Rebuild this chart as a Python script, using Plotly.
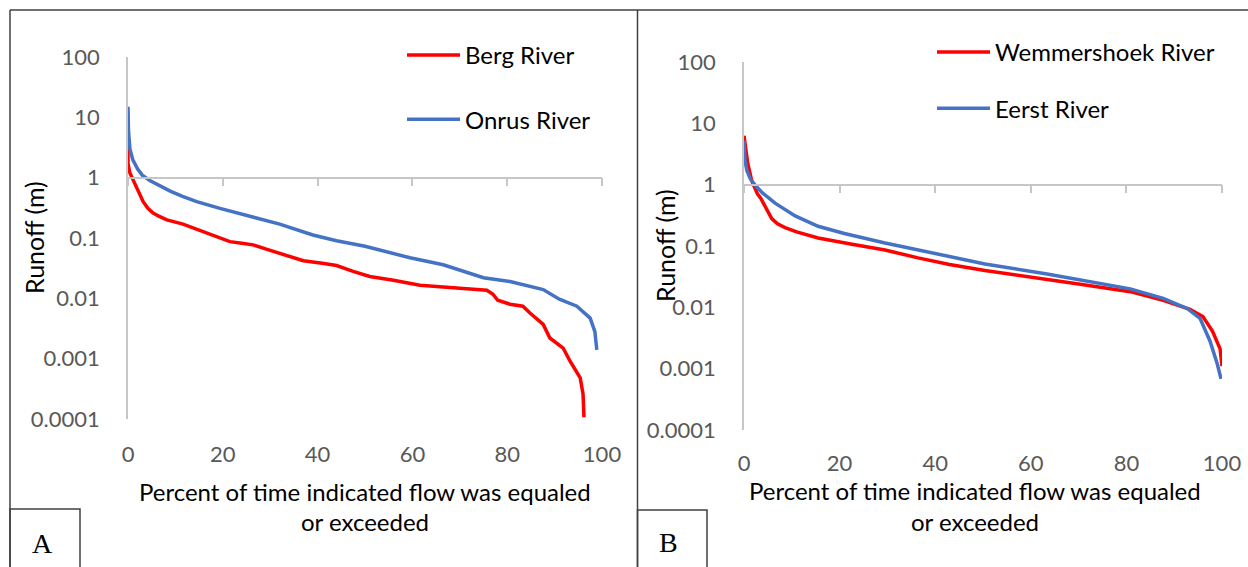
import plotly.graph_objects as go

W, H = 1248, 567

# ---------------- data ----------------
berg_x = [0, 0, 0.4, 1.1, 1.8, 3.2, 4.2, 5.3, 6.5, 8.2, 11.6, 14, 17.3, 19.5, 21.5, 24, 26.4, 29, 32,
          37, 41, 44, 47.5, 51, 56, 61.6, 70, 75.7, 77, 78, 80.6, 83.3, 84.8, 87.6, 89, 91.8, 93.2,
          95.4, 96, 96.2]
berg_y = [3.4, 1.7, 1.2, 0.9, 0.69, 0.4, 0.31, 0.26, 0.23, 0.2, 0.17, 0.145, 0.117, 0.1, 0.087, 0.082,
          0.077, 0.066, 0.055, 0.042, 0.038, 0.035, 0.028, 0.023, 0.02, 0.0165, 0.0147, 0.0136, 0.0117,
          0.0093, 0.008, 0.0074, 0.0057, 0.0037, 0.0022, 0.0015, 0.00093, 0.00048, 0.00026, 0.000107]

onrus_x = [0, 0.1, 0.4, 1.0, 2.0, 3.0, 4.6, 6.5, 8.9, 11.5, 14.5, 19.4, 26.4, 32, 39, 44, 50, 59.5,
           66.5, 75, 80.6, 87.6, 91, 94.7, 97.5, 98.5, 98.9]
onrus_y = [15, 6, 3, 2.0, 1.4, 1.1, 0.9, 0.75, 0.6, 0.49, 0.4, 0.31, 0.22, 0.17, 0.112, 0.09, 0.073,
           0.047, 0.036, 0.022, 0.019, 0.014, 0.0097, 0.0074, 0.0047, 0.0028, 0.0014]

wemm_x = [0, 0.3, 0.8, 1.6, 2.8, 3.5, 4.4, 5.8, 7, 8.6, 11, 15.5, 22.6, 29.5, 36.4, 43, 50.4, 63.4,
          70, 80.8, 87.7, 93.3, 96, 98, 99.6, 100]
wemm_y = [6.3, 4, 2.2, 1.17, 0.71, 0.6, 0.45, 0.28, 0.23, 0.2, 0.17, 0.135, 0.107, 0.086, 0.064, 0.05,
          0.04, 0.029, 0.024, 0.018, 0.013, 0.0093, 0.0071, 0.0041, 0.0021, 0.0011]

eerst_x = [0, 0.2, 0.6, 1.3, 2.5, 3.8, 6.5, 10.7, 15.5, 21, 29.5, 36.4, 50.4, 63.4, 80.8, 87.7, 92.7,
           95.4, 97.5, 99, 99.8]
eerst_y = [5.2, 2.5, 1.7, 1.25, 0.95, 0.74, 0.5, 0.31, 0.21, 0.16, 0.112, 0.086, 0.051, 0.035, 0.02,
           0.014, 0.0096, 0.0066, 0.0028, 0.0012, 0.00068]

x_ticks = [0, 20, 40, 60, 80, 100]
y_ticks = [0.0001, 0.001, 0.01, 0.1, 1, 10, 100]
y_ticktext = ["0.0001", "0.001", "0.01", "0.1", "1", "10", "100"]

RED = "#FF0000"
BLUE = "#4472C4"
AXIS = "#C6C6C6"
TICKC = "#595959"
FONT = "Lato"


def px(x):
    return x / W


def py(y):
    return 1 - y / H


# plot areas (pixels)
A_x0, A_x1, A_ytop, A_ybot = 128, 602, 57, 419
B_x0, B_x1, B_ytop, B_ybot = 744, 1222, 62, 430

A_dom_y = [py(A_ybot), py(A_ytop)]
B_dom_y = [py(B_ybot), py(B_ytop)]
A_one = A_dom_y[0] + (4 / 6) * (A_dom_y[1] - A_dom_y[0])
B_one = B_dom_y[0] + (4 / 6) * (B_dom_y[1] - B_dom_y[0])

fig = go.Figure()
LW = 3.5
fig.add_trace(go.Scatter(x=berg_x, y=berg_y, mode="lines", name="Berg River",
                         line=dict(color=RED, width=LW), xaxis="x", yaxis="y",
                         legend="legend", legendgroup="a1"))
fig.add_trace(go.Scatter(x=onrus_x, y=onrus_y, mode="lines", name="Onrus River",
                         line=dict(color=BLUE, width=LW), xaxis="x", yaxis="y",
                         legend="legend", legendgroup="a2"))
fig.add_trace(go.Scatter(x=wemm_x, y=wemm_y, mode="lines", name="Wemmershoek River",
                         line=dict(color=RED, width=LW), xaxis="x2", yaxis="y2",
                         legend="legend2", legendgroup="b1"))
fig.add_trace(go.Scatter(x=eerst_x, y=eerst_y, mode="lines", name="Eerst River",
                         line=dict(color=BLUE, width=LW), xaxis="x2", yaxis="y2",
                         legend="legend2", legendgroup="b2"))
# helper traces so the crossing axes (at y = 1) are drawn
fig.add_trace(go.Scatter(x=[None], y=[None], xaxis="x3", yaxis="y", showlegend=False, hoverinfo="skip"))
fig.add_trace(go.Scatter(x=[None], y=[None], xaxis="x4", yaxis="y2", showlegend=False, hoverinfo="skip"))

tickfont = dict(family=FONT, size=22, color=TICKC)

xbase = dict(range=[0, 100], tickvals=x_ticks, showline=False, showgrid=False, zeroline=False,
             ticks="", tickfont=tickfont, ticklabelstandoff=20, fixedrange=True, automargin=False)
xcross = dict(range=[0, 100], tickvals=x_ticks, showline=True, linecolor=AXIS, linewidth=1.5,
              ticks="outside", ticklen=8, tickwidth=1.5, tickcolor=AXIS, showticklabels=False,
              showgrid=False, zeroline=False, anchor="free", side="bottom", automargin=False)
ybase = dict(type="log", range=[-4, 2], tickvals=y_ticks, ticktext=y_ticktext, showline=True,
             linecolor=AXIS, linewidth=1.5, showgrid=False, zeroline=False, ticks="",
             tickfont=tickfont, ticklabelstandoff=22, automargin=False)

fig.update_layout(
    width=W, height=H,
    margin=dict(l=0, r=0, t=0, b=0, pad=0, autoexpand=False),
    paper_bgcolor="white", plot_bgcolor="white",
    xaxis=dict(xbase, domain=[px(A_x0), px(A_x1)], anchor="y"),
    yaxis=dict(ybase, domain=A_dom_y, anchor="x"),
    xaxis2=dict(xbase, domain=[px(B_x0), px(B_x1)], anchor="y2", ticklabelstandoff=18),
    yaxis2=dict(ybase, domain=B_dom_y, anchor="x2"),
    xaxis3=dict(xcross, overlaying="x", position=A_one),
    xaxis4=dict(xcross, overlaying="x2", position=B_one),
    legend=dict(x=px(402), y=py(33), xanchor="left", yanchor="top", bgcolor="rgba(0,0,0,0)",
                font=dict(family=FONT, size=24, color="black"), tracegroupgap=30,
                traceorder="grouped", itemwidth=53),
    legend2=dict(x=px(932), y=py(30), xanchor="left", yanchor="top", bgcolor="rgba(0,0,0,0)",
                 font=dict(family=FONT, size=24, color="black"), tracegroupgap=22,
                 traceorder="grouped", itemwidth=53),
    showlegend=True,
)

title_font = dict(family=FONT, size=24, color="black")
ann = []
for xc, l1, l2 in [((A_x0 + A_x1) / 2, 491, 521),
                   ((B_x0 + B_x1) / 2 - 8, 490, 521)]:
    ann.append(dict(text="Percent of time indicated flow was equaled", x=px(xc), y=py(l1),
                    xref="paper", yref="paper", showarrow=False, font=title_font,
                    xanchor="center", yanchor="middle"))
    ann.append(dict(text="or exceeded", x=px(xc), y=py(l2), xref="paper", yref="paper",
                    showarrow=False, font=title_font, xanchor="center", yanchor="middle"))
ann.append(dict(text="Runoff (m)", x=px(34), y=py((A_ytop + A_ybot) / 2), xref="paper", yref="paper",
                showarrow=False, font=dict(title_font, size=25), textangle=-90,
                xanchor="center", yanchor="middle"))
ann.append(dict(text="Runoff (m)", x=px(665), y=py((B_ytop + B_ybot) / 2), xref="paper", yref="paper",
                showarrow=False, font=dict(title_font, size=25), textangle=-90,
                xanchor="center", yanchor="middle"))
ann.append(dict(text="A", x=px(42), y=py(543), xref="paper", yref="paper", showarrow=False,
                font=dict(family="Liberation Serif", size=28, color="black"),
                xanchor="center", yanchor="middle"))
ann.append(dict(text="B", x=px(668), y=py(542), xref="paper", yref="paper", showarrow=False,
                font=dict(family="Liberation Serif", size=28, color="black"),
                xanchor="center", yanchor="middle"))
fig.update_layout(annotations=ann)

FR = dict(color="#404040", width=1.5)
shapes = [
    dict(type="line", xref="paper", yref="paper", x0=px(10), x1=1, y0=py(10), y1=py(10), line=FR),
    dict(type="line", xref="paper", yref="paper", x0=px(10), x1=px(10), y0=py(10), y1=0, line=FR),
    dict(type="line", xref="paper", yref="paper", x0=px(637.5), x1=px(637.5), y0=py(10), y1=0, line=FR),
    dict(type="rect", xref="paper", yref="paper", x0=px(10), x1=px(80), y0=py(509), y1=-0.01, line=FR),
    dict(type="rect", xref="paper", yref="paper", x0=px(637.5), x1=px(707), y0=py(510), y1=-0.01, line=FR),
]
fig.update_layout(shapes=shapes)

fig.write_html("out.html")
